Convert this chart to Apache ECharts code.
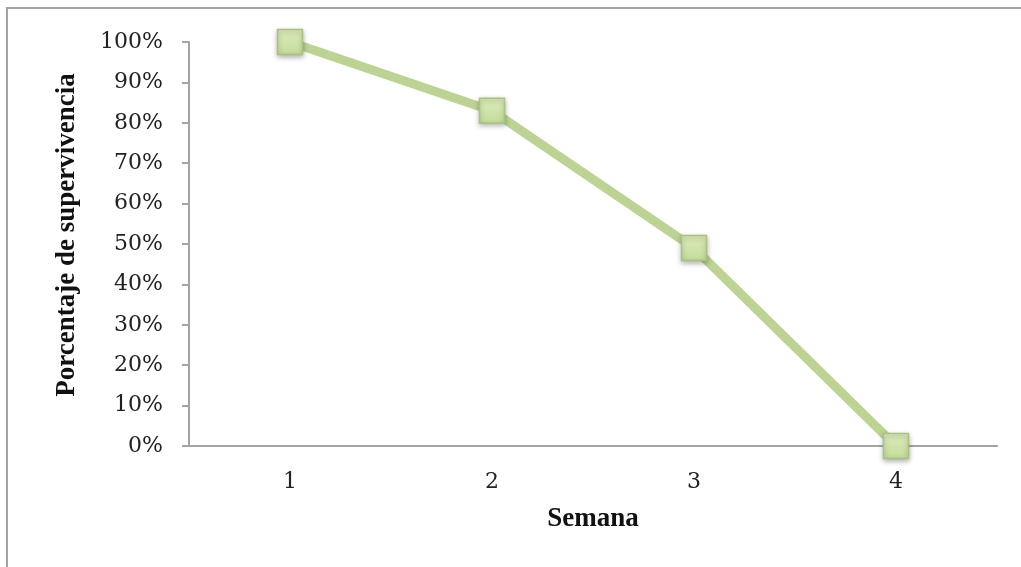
<!DOCTYPE html>
<html>
<head>
<meta charset="utf-8">
<script src="https://cdn.jsdelivr.net/npm/echarts@6/dist/echarts.min.js"></script>
<style>
  html, body { margin: 0; padding: 0; background: #fff; }
  #chart { width: 1021px; height: 567px; }
</style>
</head>
<body>
<div id="chart"></div>
<script>
// Weekly survival percentage
const weeks = ['1', '2', '3', '4'];
const survival = [100, 83, 49, 0];
const yTicks = { min: 0, max: 100, interval: 10 };

const chart = echarts.init(document.getElementById('chart'));
const axisGray = '#a3a3a3';
const labelFont = '"DejaVu Serif", "Liberation Serif", serif';
const titleFont = '"Liberation Serif", "DejaVu Serif", serif';

chart.setOption({
  animation: false,
  backgroundColor: '#ffffff',
  graphic: [{
    type: 'rect',
    shape: { x: 7, y: 8, width: 1030, height: 580 },
    style: { fill: 'none', stroke: axisGray, lineWidth: 2 },
    silent: true
  }],
  grid: { left: 189, top: 42, right: 24, bottom: 121 },
  xAxis: {
    type: 'category',
    data: weeks,
    boundaryGap: true,
    name: 'Semana',
    nameLocation: 'middle',
    nameGap: 60,
    nameTextStyle: { fontFamily: titleFont, fontWeight: 'bold', fontSize: 27, color: '#111' },
    axisLine: { lineStyle: { color: axisGray, width: 2 } },
    axisTick: { show: false },
    axisLabel: { fontFamily: labelFont, fontSize: 22, color: '#222', margin: 25 }
  },
  yAxis: {
    type: 'value',
    min: yTicks.min,
    max: yTicks.max,
    interval: yTicks.interval,
    name: 'Porcentaje de supervivencia',
    nameLocation: 'middle',
    nameGap: 108,
    nameTextStyle: {
      fontFamily: titleFont, fontWeight: 'bold', fontSize: 27, color: '#111',
      padding: [0, 0, 0, 18]
    },
    splitLine: { show: false },
    axisLine: { show: true, lineStyle: { color: axisGray, width: 2 } },
    axisTick: { show: true, length: 7, lineStyle: { color: axisGray, width: 2 } },
    axisLabel: {
      fontFamily: labelFont, fontSize: 22, color: '#222', margin: 26,
      formatter: v => v + '%'
    }
  },
  series: [{
    type: 'line',
    data: survival,
    symbol: 'rect',
    symbolSize: 25,
    lineStyle: { color: '#bcd394', width: 9 },
    itemStyle: {
      color: new echarts.graphic.LinearGradient(0, 0, 0, 1, [
        { offset: 0, color: '#dcecbc' },
        { offset: 1, color: '#c3dc99' }
      ]),
      borderColor: '#a9c27f',
      borderWidth: 1.5,
      shadowColor: 'rgba(0,0,0,0.3)',
      shadowBlur: 5,
      shadowOffsetY: 2
    },
    z: 3
  }]
});
</script>
</body>
</html>
